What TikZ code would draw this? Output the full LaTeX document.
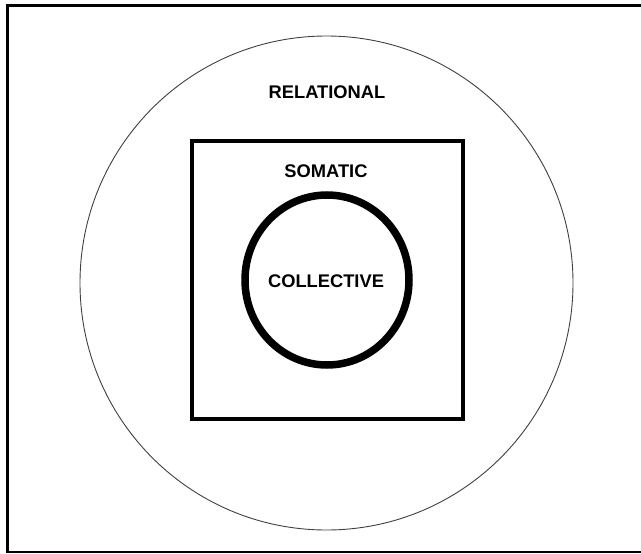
\documentclass[tikz,border=0pt]{standalone}
\usepackage{fontspec}
\setmainfont{Liberation Sans}
\begin{document}
\begin{tikzpicture}[x=1pt, y=-1pt]
    \tikzset{lbl/.style={font=\fontsize{18.3}{20}\selectfont\bfseries}}
    \useasboundingbox (0, 0) rectangle (641, 554);
    \clip (0, 0) rectangle (641, 554);
    % 外框
    \draw[line width=2.6pt] (7.5, 5.5) rectangle (660, 552);
    % 三层
    \draw[line width=0.9pt, black!75] (326.5, 283) ellipse (246.5 and 247);
    \draw[line width=4pt] (192, 141) rectangle (463, 419);
    \draw[line width=7.5pt] (327, 280) ellipse (82 and 85);
    \node[lbl] (rel) at (327, 92) {RELATIONAL};
    \node[lbl] (som) at (326, 171) {SOMATIC};
    \node[lbl] (col) at (326, 281) {COLLECTIVE};
\end{tikzpicture}
\end{document}
